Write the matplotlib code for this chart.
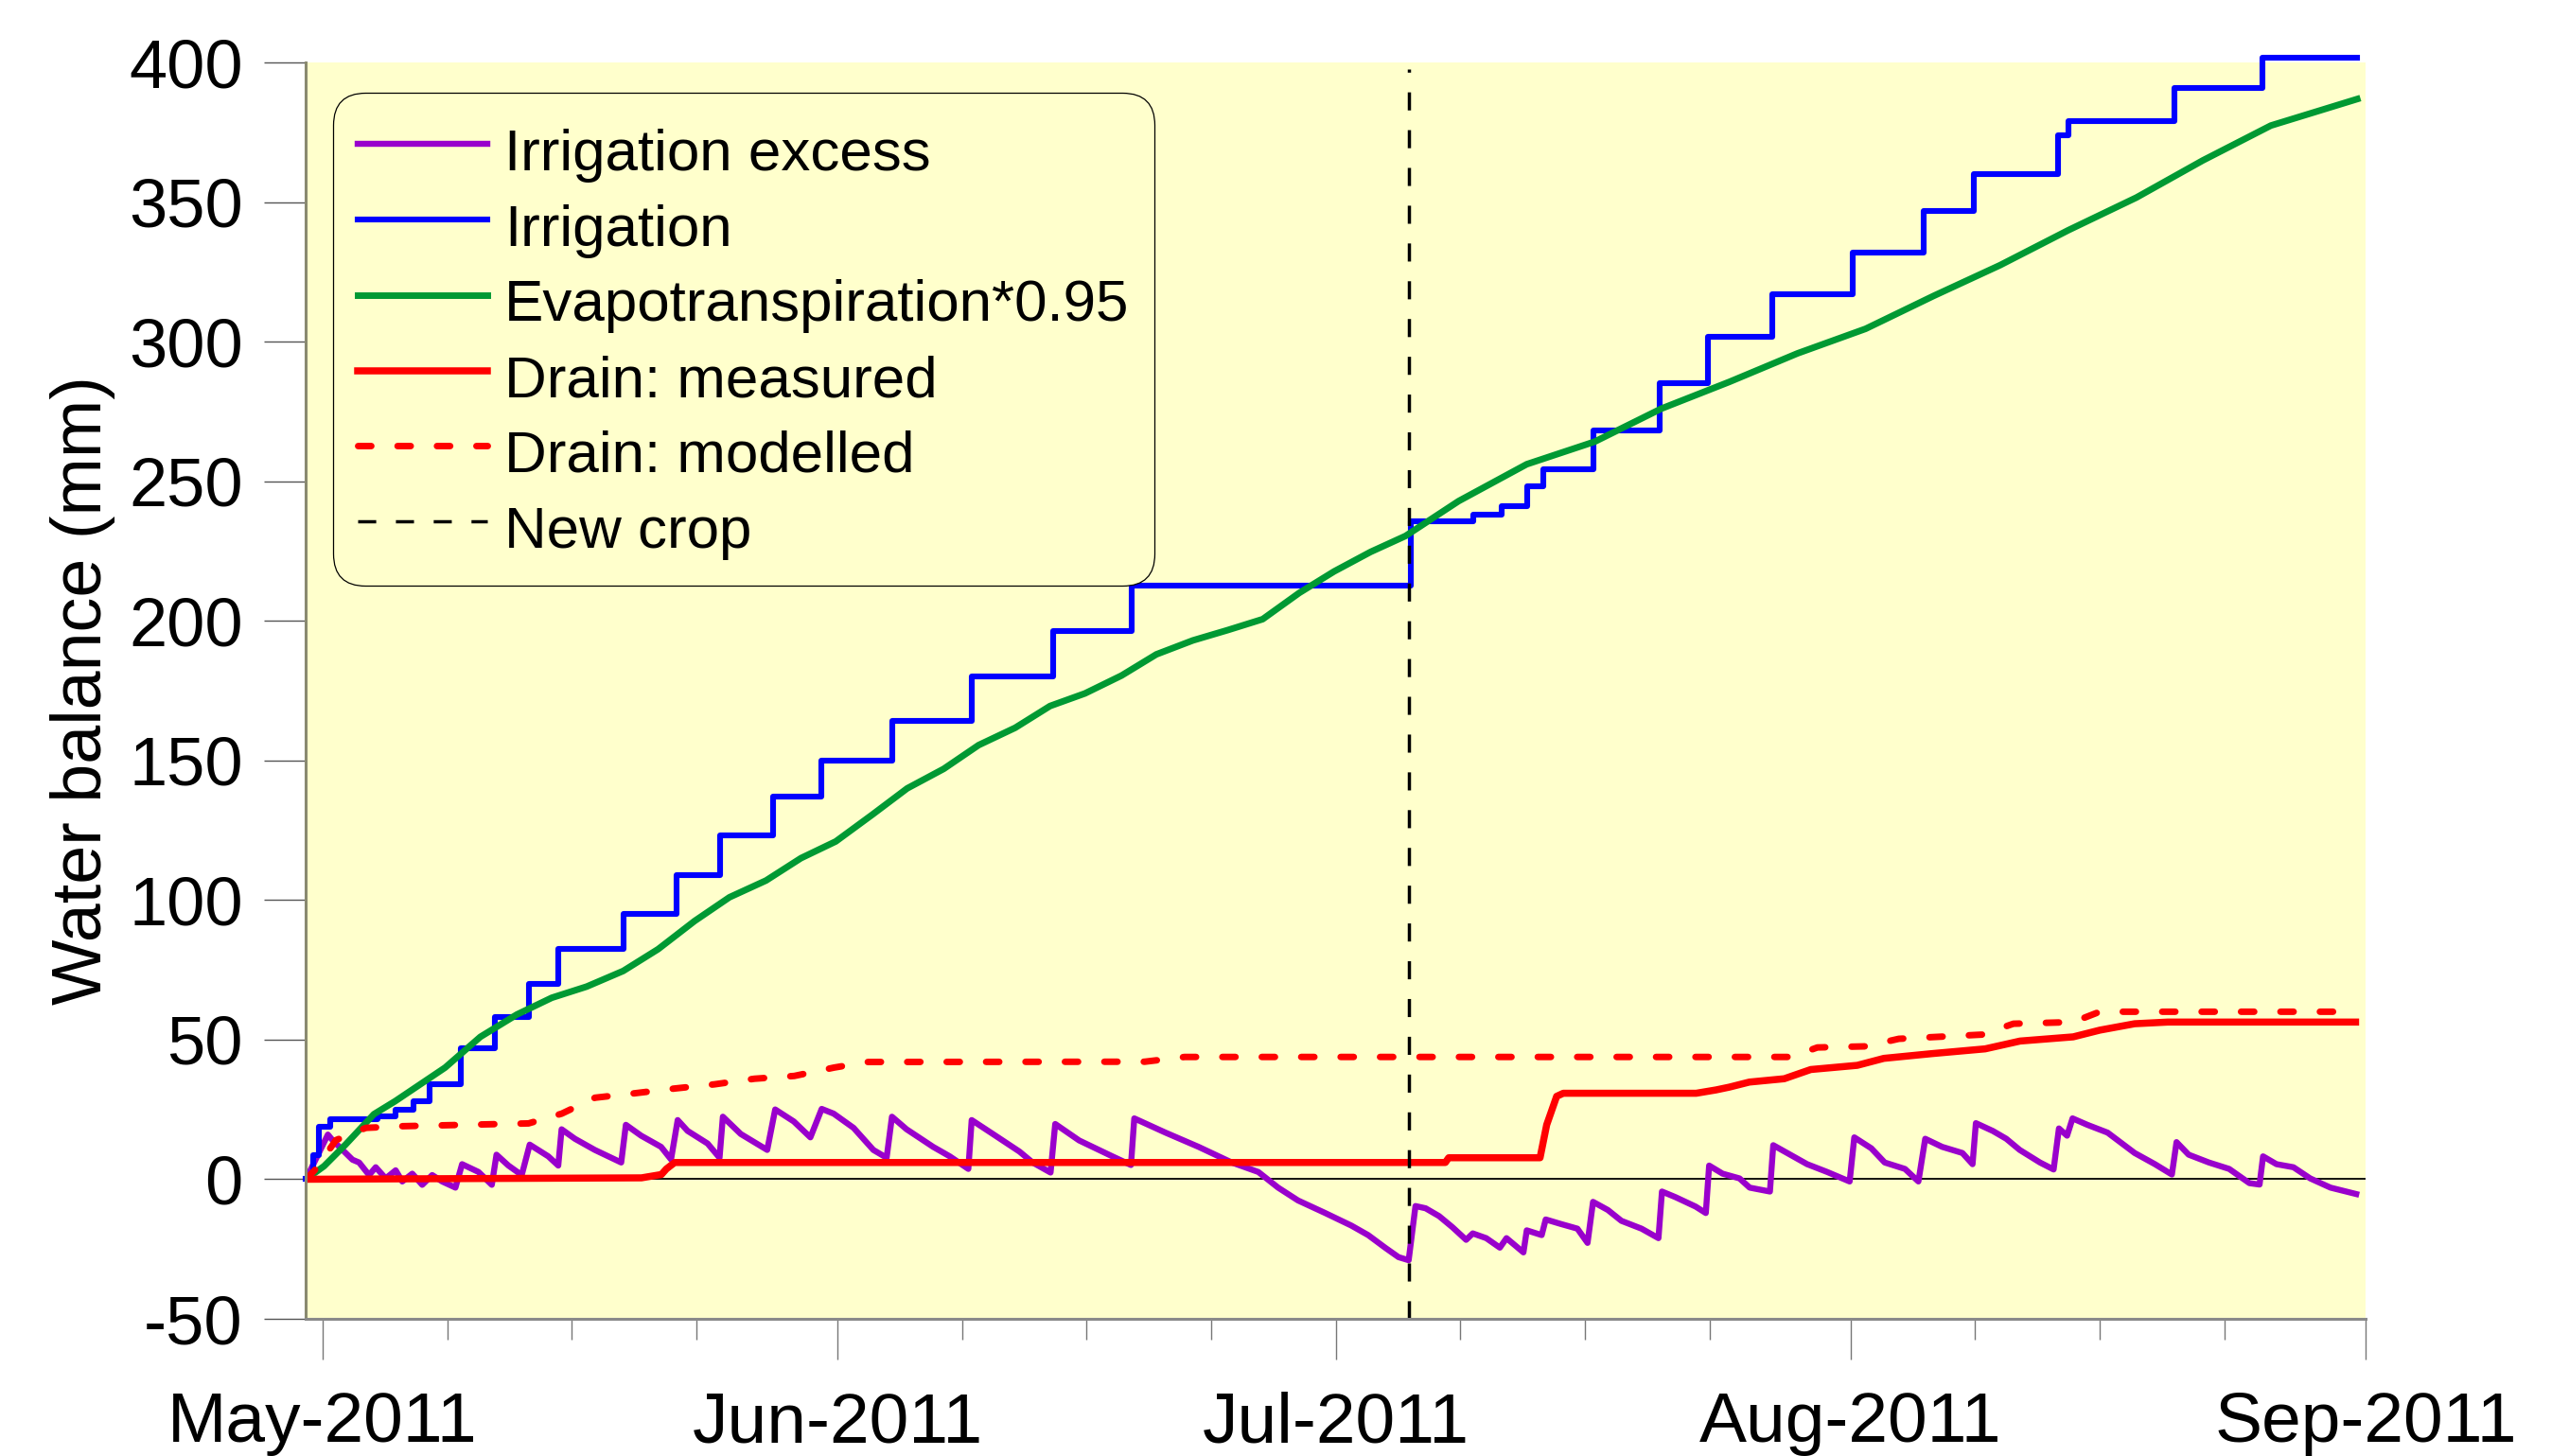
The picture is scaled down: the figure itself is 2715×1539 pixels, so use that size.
import numpy as np
import pandas as pd
import matplotlib
matplotlib.use("Agg")
import matplotlib.pyplot as plt
import matplotlib.dates as mdates

plt.rcParams['font.family'] = ['Liberation Sans', 'DejaVu Sans']
plt.rcParams['axes.unicode_minus'] = False

START = pd.Timestamp("2011-04-30")

# all x values are days after 30 Apr 2011
# cumulative irrigation (mm), value after each gift
irr_day = [0, 0.45, 0.75, 1.44, 4.3, 5.38, 6.45, 7.43, 9.3, 11.4, 13.4, 15.2, 19.1,
           22.3, 24.95, 28.1, 31.0, 35.3, 40.1, 45.0, 49.7, 66.5, 70.3, 72.0, 73.5,
           74.5, 77.5, 81.5, 84.4, 88.3, 93.1, 97.4, 100.4, 105.5, 106.1, 112.5,
           117.8, 123.5]
irr_mm = [0, 8.5, 18.7, 21.5, 22.5, 25, 28, 34, 47, 58, 70, 82.4, 95,
          109, 123, 137, 150, 164, 180, 196.4, 212.7, 235.5, 238, 241, 248.3,
          254.2, 268.2, 285, 301.7, 317, 332, 346.8, 360, 374, 379, 391,
          401.6, 401.6]

# cumulative evapotranspiration * 0.95 (mm)
et_day = [0, 1.09, 2.38, 4.09, 5.38, 8.38, 10.5, 12.7, 14.8, 16.9, 19.1, 21.2, 23.4,
          25.5, 27.7, 29.8, 31.9, 34.1, 36.2, 38.4, 40.5, 42.7, 44.8, 46.9, 49.1,
          51.2, 53.4, 55.5, 57.6, 59.8, 61.9, 64.1, 66.2, 69.4, 73.5, 77.6, 81.6,
          85.7, 89.8, 93.9, 98.0, 102.0, 106.1, 110.2, 114.2, 118.3, 123.5]
et_mm = [0, 4.7, 12.4, 23.3, 28, 40, 51, 59, 65, 69, 74.6, 82.4, 92.5,
         101, 107, 115, 121, 130.6, 140, 147, 155.5, 161.7, 169.5, 174, 180.4,
         188, 193, 196.7, 200.6, 210, 217.7, 224.7, 230.4, 242.9, 256.1, 264.2, 276,
         285.6, 295.8, 304.6, 316.4, 327.4, 339.9, 351.6, 364.9, 377.4, 386.9]

# irrigation excess (mm)
exc_day = [0, 1.32, 1.60, 2.20, 2.80, 3.20, 3.80, 4.20, 4.80, 5.40, 5.80, 6.40, 7.00,
           7.60, 8.20, 9.00, 9.40, 10.39, 11.19, 11.47, 12.19, 12.99, 13.47, 14.59,
           15.19, 15.39, 16.19, 17.39, 18.98, 19.26, 20.18, 21.38, 21.98, 22.38, 22.98,
           24.18, 24.90, 25.10, 26.18, 27.77, 28.25, 29.37, 30.37, 31.05, 31.77, 32.97,
           34.16, 34.96, 35.28, 36.16, 37.76, 38.76, 39.88, 40.08, 41.36, 42.96, 43.75,
           44.83, 45.11, 46.55, 48.55, 49.67, 49.87, 51.75, 53.74, 55.74, 57.34, 58.53,
           59.73, 61.33, 62.94, 63.95, 64.97, 65.78, 66.39, 66.80, 67.41, 68.22, 69.03,
           69.85, 70.25, 71.06, 71.88, 72.28, 73.30, 73.50, 74.40, 74.64, 75.54, 76.55,
           77.16, 77.49, 78.38, 79.20, 80.41, 81.43, 81.64, 82.45, 83.67, 84.28, 84.48,
           85.29, 86.31, 86.92, 88.14, 88.34, 89.36, 90.38, 91.59, 92.94, 93.22, 94.24,
           95.05, 96.27, 97.08, 97.49, 98.51, 99.73, 100.34, 100.54, 101.56, 102.37,
           103.18, 104.40, 105.22, 105.54, 106.03, 106.36, 107.25, 108.47, 110.10,
           111.32, 112.34, 112.62, 113.35, 114.57, 115.79, 117.01, 117.62, 117.83,
           118.64, 119.66, 120.67, 121.89, 123.44]
exc_mm = [0, 16, 14, 10.5, 7, 6, 1.5, 4.3, 0.3, 3.2, -0.8, 2, -2,
          1.5, -0.8, -3, 5.4, 2.6, -2, 8.8, 4.9, 1.5, 12.4, 8.2,
          4.9, 17.9, 14.5, 10.5, 6, 19.5, 15.6, 11.6, 7.1, 21.2, 17.3,
          12.8, 7.7, 22.4, 16.2, 10.5, 25, 20.7, 15, 25.2, 23.5, 18.4,
          10.5, 7.7, 22.4, 17.9, 11.6, 8.2, 3.7, 21.2, 16.2, 9.9, 6,
          2.4, 19.8, 13.9, 8.2, 5.1, 21.8, 16.7, 11.6, 6, 2.6, -3,
          -7.6, -12, -16.6, -20, -24.5, -27.9, -29, -9.6, -10.4, -13.2, -17.2,
          -21.7, -19.4, -21.1, -24.5, -21.1, -26.2, -18.3, -20, -14.4, -16, -17.7,
          -22.8, -8.1, -11, -14.9, -17.7, -21.1, -4.4, -6.4, -9.8, -12.1, 4.9,
          2, 0.3, -3, -4.4, 12.2, 8.8, 5.4, 2.6, -0.8, 15, 11.1,
          6, 3.7, -0.8, 14.5, 11.6, 9.4, 5.4, 20.1, 17.3, 14.5,
          10.5, 6, 3.5, 18.2, 15.6, 21.8, 19.5, 16.7, 9.4,
          5.4, 1.7, 13.3, 8.8, 6, 3.7, -1.4, -1.9, 8.2,
          5.4, 4.3, 0.3, -3, -5.3]

# cumulative drain, measured (mm)
drm_day = [0, 20.2, 21.4, 21.7, 22.2, 68.6, 68.8, 74.3, 74.7, 75.3, 75.7, 83.7, 84.9,
           85.7, 86.9, 89.0, 90.6, 93.4, 95.0, 97.9, 101.1, 103.2, 106.4, 108.0,
           110.1, 112.1, 123.4]
drm_mm = [0, 0.5, 1.7, 3.7, 6, 6, 7.7, 7.7, 19.5, 29.7, 30.8, 30.8, 32,
          33, 34.8, 36, 39.3, 40.8, 43.3, 45, 46.7, 49.5, 51, 53.4,
          55.7, 56.3, 56.3]

# cumulative drain, modelled (mm)
drs_day = [0, 0.6, 1.8, 3.6, 5.8, 13.4, 15.4, 17.4, 19.8, 22.2, 24.6, 27.0, 29.4,
           31.8, 33.8, 50.5, 52.9, 89.4, 91.0, 93.9, 95.9, 100.9, 102.8, 106.4,
           108.0, 123.4]
drs_mm = [0, 3.7, 14, 18.4, 19, 20, 23.5, 29.2, 30.8, 32.5, 34, 36, 37,
          40, 42, 42.1, 43.8, 43.8, 47.2, 47.6, 50.3, 51.8, 55.7, 56.3,
          60, 60]

new_crop_day = 66.4


def to_dates(days):
    return START + pd.to_timedelta(np.asarray(days, dtype=float), unit="D")


fig = plt.figure(figsize=(27.15, 15.39), dpi=100)
ax = fig.add_axes([0.1191, 0.0942, 0.8017, 0.8629])
ax.set_facecolor("#FFFFCC")

ax.axhline(0, color="black", lw=1.3, zorder=1.5)

ax.plot(to_dates(exc_day), exc_mm, color="#9900CC", lw=4.6, label="Irrigation excess")
ax.plot(to_dates(irr_day), irr_mm, color="#0000FF", lw=4.4, drawstyle="steps-post",
        label="Irrigation", clip_on=False)
ax.plot(to_dates(et_day), et_mm, color="#009933", lw=5.0, label="Evapotranspiration*0.95")
ax.plot(to_dates(drm_day), drm_mm, color="#FF0000", lw=5.4, label="Drain: measured")
ax.plot(to_dates(drs_day), drs_mm, color="#FF0000", lw=5.0, dashes=(2.0, 4.0),
        dash_capstyle="round", label="Drain: modelled")
ax.axvline(to_dates([new_crop_day])[0], ymax=0.995, color="black", lw=2.5,
           dashes=(5.5, 6), label="New crop")

ax.set_xlim(START, pd.Timestamp("2011-09-01"))
ax.set_ylim(-50, 400)
ax.set_yticks(np.arange(-50, 401, 50))

ax.xaxis.set_major_locator(mdates.MonthLocator())
ax.xaxis.set_major_formatter(mdates.DateFormatter("%b-%Y"))
months = pd.date_range("2011-05-01", "2011-08-01", freq="MS")
minor = [m + pd.Timedelta(days=d) for m in months for d in (7.5, 15, 22.5)]
ax.set_xticks(minor, minor=True)

for s in ("top", "right"):
    ax.spines[s].set_visible(False)
ax.spines["left"].set_color("#8a8a70")
ax.spines["left"].set_linewidth(2.2)
ax.spines["bottom"].set_color("#8a8a8a")
ax.spines["bottom"].set_linewidth(2.2)

ax.tick_params(axis="y", which="major", direction="out", length=32, width=1,
               color="#555555", labelsize=52, pad=16)
ax.tick_params(axis="x", which="major", direction="out", length=31, width=1,
               color="#777777", labelsize=54, pad=24)
ax.tick_params(axis="x", which="minor", direction="out", length=16, width=1,
               color="#777777")

ax.set_ylabel("Water balance (mm)", fontsize=53, labelpad=10)

leg = ax.legend(loc="upper left", bbox_to_anchor=(0.0130, 0.976), borderaxespad=0,
                fontsize=44.6, handlelength=2.2, handletextpad=0.3, handleheight=1.35,
                labelspacing=0.165, borderpad=0.43, frameon=True, facecolor="#FFFFCC",
                edgecolor="black", framealpha=1)
leg.get_frame().set_linewidth(0.9)
leg.get_frame().set_boxstyle("round", pad=0, rounding_size=0.55)

fig.savefig("out.png", dpi=100, facecolor="white")
